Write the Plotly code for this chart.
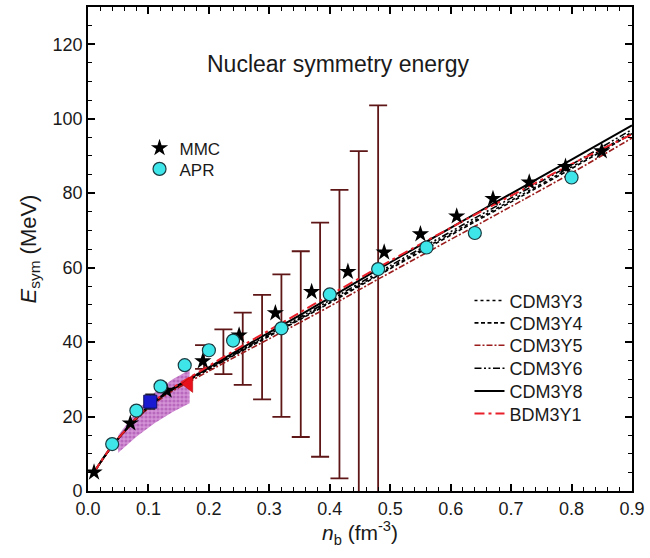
import plotly.graph_objects as go

# ---- data ----
n_grid = [0.01, 0.02, 0.04, 0.06, 0.08, 0.10, 0.13, 0.16, 0.20, 0.25, 0.30, 0.35, 0.40, 0.48, 0.56, 0.64, 0.72, 0.80, 0.90]
cdm3y3 = [5.0, 7.5, 12.1, 15.9, 19.4, 22.4, 26.2, 29.2, 32.8, 37.4, 41.8, 46.2, 50.8, 58.2, 65.5, 72.7, 79.8, 87.0, 96.4]
cdm3y4 = [5.0, 7.5, 12.1, 15.9, 19.4, 22.4, 26.2, 29.1, 32.7, 37.2, 41.6, 46.0, 50.5, 57.9, 65.1, 72.3, 79.4, 86.6, 96.0]
cdm3y5 = [5.0, 7.4, 12.0, 15.8, 19.2, 22.2, 25.9, 28.7, 32.2, 36.6, 40.9, 45.2, 49.6, 56.9, 64.0, 71.1, 78.2, 85.4, 94.8]
cdm3y6 = [5.0, 7.5, 12.1, 16.0, 19.5, 22.5, 26.3, 29.3, 33.0, 37.6, 42.1, 46.6, 51.2, 58.7, 66.0, 73.3, 80.5, 87.7, 97.1]
cdm3y8 = [5.0, 7.6, 12.2, 16.0, 19.6, 22.6, 26.5, 29.4, 33.2, 38.0, 42.6, 47.2, 51.9, 59.5, 67.0, 74.4, 81.7, 89.0, 98.2]
bdm3y1 = [5.0, 7.6, 12.2, 16.0, 19.6, 22.7, 26.7, 29.7, 33.6, 38.5, 43.2, 47.9, 52.6, 60.0, 67.2, 74.2, 81.0, 87.8, 95.8]

mmc_n = [0.01, 0.07, 0.13, 0.19, 0.25, 0.31, 0.37, 0.43, 0.49, 0.55, 0.61, 0.67, 0.73, 0.79, 0.85]
mmc_e = [5.0, 18.2, 27.0, 34.9, 41.8, 47.8, 53.5, 58.9, 64.1, 69.0, 73.8, 78.5, 82.9, 87.1, 91.3]

apr_n = [0.04, 0.08, 0.12, 0.16, 0.20, 0.24, 0.32, 0.40, 0.48, 0.56, 0.64, 0.80]
apr_e = [12.6, 21.6, 28.1, 33.8, 37.8, 40.4, 43.7, 52.8, 59.6, 65.4, 69.3, 84.2]

err_n = [0.192, 0.224, 0.256, 0.288, 0.320, 0.352, 0.384, 0.416, 0.448, 0.480]
err_low = [32.8, 31.4, 28.5, 24.6, 19.9, 14.5, 9.2, 3.4, -3.0, -10.0]
err_high = [39.2, 43.4, 47.9, 52.7, 58.2, 64.4, 72.1, 80.9, 91.3, 103.6]

band_n = [0.050, 0.080, 0.110, 0.140, 0.168]
band_low = [10.3, 14.6, 18.2, 21.2, 23.6]
band_high = [15.0, 21.3, 26.4, 30.0, 32.5]

sq_n, sq_e, sq_err = [0.103], [24.0], [2.0]
tri_n, tri_e = [0.167], [28.8]

x_ticks = [0.0, 0.1, 0.2, 0.3, 0.4, 0.5, 0.6, 0.7, 0.8, 0.9]
y_ticks = [0, 20, 40, 60, 80, 100, 120]

FONT = "Arial, Liberation Sans, sans-serif"
TXT = "#1a1a1a"

fig = go.Figure()

# shaded band
fig.add_trace(go.Scatter(x=band_n, y=band_low, mode="lines", line=dict(width=0),
                         showlegend=False, hoverinfo="skip"))
fig.add_trace(go.Scatter(x=band_n, y=band_high, mode="lines", line=dict(width=0),
                         fill="tonexty", fillcolor="#c981cc",
                         fillpattern=dict(shape=".", fgcolor="#9c3da3", bgcolor="#d493d6", size=4, solidity=0.5),
                         showlegend=False, hoverinfo="skip"))

# error bars
mid = [(a + b) / 2 for a, b in zip(err_low, err_high)]
fig.add_trace(go.Scatter(
    x=err_n, y=mid, mode="markers", marker=dict(size=1, opacity=0),
    error_y=dict(type="data", symmetric=False,
                 array=[h - m for h, m in zip(err_high, mid)],
                 arrayminus=[m - l for l, m in zip(err_low, mid)],
                 color="#5e1616", thickness=1.8, width=9),
    showlegend=False, hoverinfo="skip"))

# lines
line_specs = [
    ("CDM3Y3", cdm3y3, "black", "dot", 1.6),
    ("CDM3Y4", cdm3y4, "black", "4px,2.5px", 1.6),
    ("CDM3Y5", cdm3y5, "#9b1c1c", "6px,2px,2px,2px", 1.6),
    ("CDM3Y6", cdm3y6, "black", "7px,2.5px,2px,2.5px,2px,2.5px", 1.6),
    ("CDM3Y8", cdm3y8, "black", "solid", 2.0),
    ("BDM3Y1", bdm3y1, "#e8202a", "10px,4px,3px,4px", 2.0),
]
row_px = [300, 322.5, 345, 368, 391, 413.5]
legend_layout = {}
for i, (name, ys, col, dash, w) in enumerate(line_specs):
    lg = f"legend{i + 3}"
    fig.add_trace(go.Scatter(x=n_grid, y=ys, mode="lines", name=name,
                             line=dict(color=col, dash=dash, width=w, shape="spline", smoothing=0.6),
                             legend=lg))
    legend_layout[lg] = dict(x=(473 - 88) / 549, y=1 - (row_px[i] - 5) / 486, xanchor="left", yanchor="middle",
                             bgcolor="rgba(0,0,0,0)", font=dict(family=FONT, size=18, color=TXT))

# blue square & red triangle
fig.add_trace(go.Scatter(x=sq_n, y=sq_e, mode="markers",
                         marker=dict(symbol="square", size=13, color="#1a1ad0", line=dict(color="#101060", width=1)),
                         error_y=dict(type="data", array=sq_err, color="#222222", thickness=1.5, width=5),
                         showlegend=False))
fig.add_trace(go.Scatter(x=tri_n, y=tri_e, mode="markers",
                         marker=dict(symbol="triangle-left", size=15, color="#e8101a", line=dict(color="#b00000", width=0.5)),
                         showlegend=False))

# MMC & APR
fig.add_trace(go.Scatter(x=mmc_n, y=mmc_e, mode="markers", name="MMC",
                         marker=dict(symbol="star", size=13, color="black", line=dict(width=0)),
                         legend="legend"))
fig.add_trace(go.Scatter(x=apr_n, y=apr_e, mode="markers", name="APR",
                         marker=dict(symbol="circle", size=13, color="#3ee6ea", line=dict(color="#1a3a40", width=1.2)),
                         legend="legend2"))

axis_common = dict(showline=True, linecolor="black", linewidth=1.8, mirror="ticks",
                   ticks="inside", ticklen=7, tickwidth=1.5, tickcolor="black",
                   showgrid=False, zeroline=False, ticklabeloverflow="allow",
                   tickfont=dict(family=FONT, size=18, color=TXT))

fig.update_layout(
    width=650, height=558,
    margin=dict(l=88, r=13, t=5, b=67),
    paper_bgcolor="white", plot_bgcolor="white",
    font=dict(family=FONT, color=TXT),
    xaxis=dict(range=[0, 0.9], tickvals=x_ticks, ticktext=[f"{v:.1f}" for v in x_ticks],
               minor=dict(dtick=0.02, ticks="inside", ticklen=4, tickwidth=1.2, tickcolor="black"),
               title=dict(text="<i>n</i><sub>b</sub> (fm<sup>-3</sup>)", font=dict(family=FONT, size=21), standoff=8),
               **axis_common),
    yaxis=dict(range=[0, 130], tickvals=y_ticks,
               minor=dict(dtick=5, ticks="inside", ticklen=4, tickwidth=1.2, tickcolor="black"),
               title=dict(text="<i>E</i><sub>sym</sub> (MeV)", font=dict(family=FONT, size=22), standoff=10),
               **axis_common),
    legend=dict(x=(140 - 88) / 549, y=1 - (147 - 5) / 486, xanchor="left", yanchor="middle",
                bgcolor="rgba(0,0,0,0)", font=dict(family=FONT, size=17, color=TXT)),
    legend2=dict(x=(140 - 88) / 549, y=1 - (168 - 5) / 486, xanchor="left", yanchor="middle",
                 bgcolor="rgba(0,0,0,0)", font=dict(family=FONT, size=17, color=TXT)),
    annotations=[dict(text="Nuclear symmetry energy", x=(341 - 88) / 549, y=1 - (47 - 5) / 486,
                      xref="paper", yref="paper", showarrow=False,
                      font=dict(family=FONT, size=23, color=TXT))],
    showlegend=True,
    **legend_layout,
)

fig.write_html("out.html")
